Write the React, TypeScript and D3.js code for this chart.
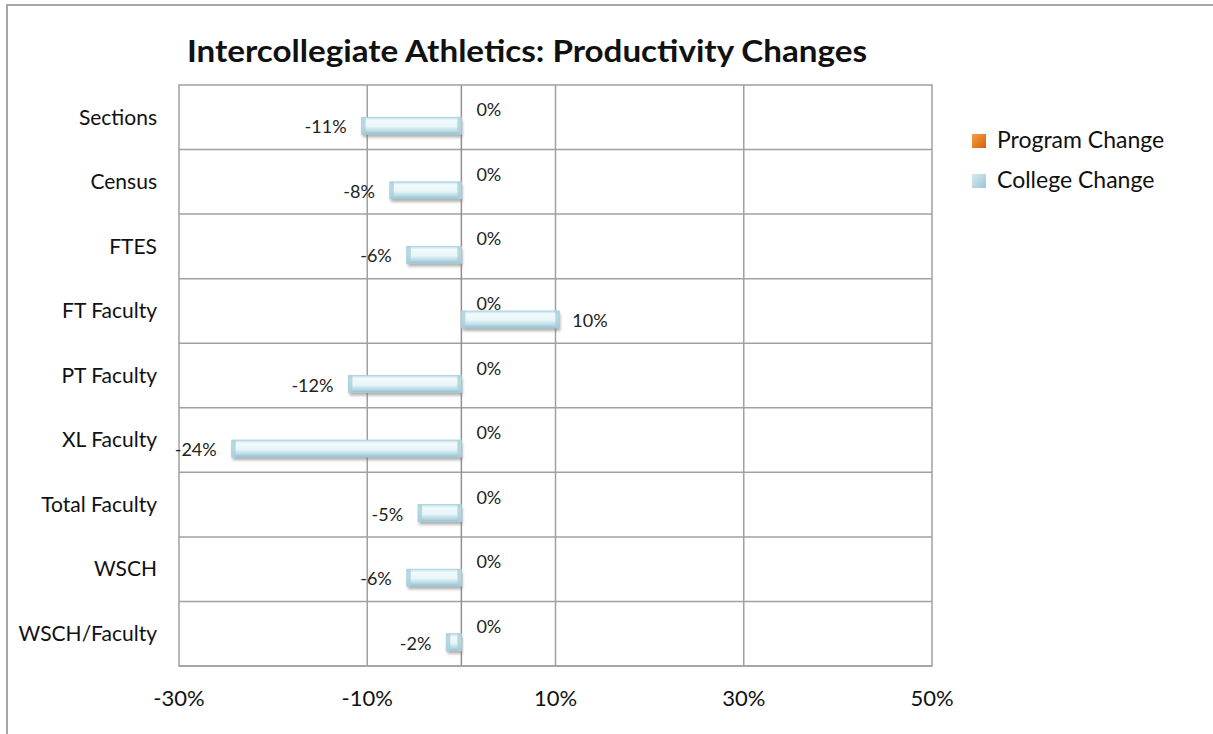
import React from "react";
import * as d3 from "d3";

const categories = [
  "Sections",
  "Census",
  "FTES",
  "FT Faculty",
  "PT Faculty",
  "XL Faculty",
  "Total Faculty",
  "WSCH",
  "WSCH/Faculty",
];
const seriesNames = ["Program Change", "College Change"];
const programChange = [0, 0, 0, 0, 0, 0, 0, 0, 0];
const collegeChange = [-0.106, -0.076, -0.058, 0.104, -0.12, -0.244, -0.046, -0.058, -0.016];
const xTicks = [-0.3, -0.1, 0.1, 0.3, 0.5];

const W = 1213;
const H = 734;
const plot = { left: 179, right: 932, top: 85, bottom: 666 };
const FONT = "Lato, 'Open Sans', sans-serif";

export default function App() {
  const x = d3.scaleLinear().domain([-0.3, 0.5]).range([plot.left, plot.right]);
  const y = d3.scaleBand<string>().domain(categories).range([plot.top, plot.bottom]).padding(0);
  const barH = 17;
  const sub = d3
    .scaleBand<string>()
    .domain(seriesNames)
    .range([y.bandwidth() / 2 - barH, y.bandwidth() / 2 + barH])
    .padding(0);
  const fmt = (v: number) => `${Math.round(v * 100)}%`;
  const gridVals = [-0.1, 0.1, 0.3];

  return (
    <div style={{ position: "absolute", left: 0, top: 0 }}>
      <svg width={W} height={H} style={{ display: "block", background: "#fff" }}>
        <defs>
          <linearGradient id="blueBar" x1="0" y1="0" x2="0" y2="1">
            <stop offset="0%" stopColor="#bcdde7" />
            <stop offset="18%" stopColor="#f2fafc" />
            <stop offset="55%" stopColor="#e9f5f8" />
            <stop offset="82%" stopColor="#b7dae4" />
            <stop offset="100%" stopColor="#8fbfcd" />
          </linearGradient>
          <linearGradient id="legBlue" x1="0" y1="0" x2="1" y2="1">
            <stop offset="0%" stopColor="#d6ebf1" />
            <stop offset="100%" stopColor="#9cc6d3" />
          </linearGradient>
          <linearGradient id="legOrange" x1="0" y1="0" x2="1" y2="1">
            <stop offset="0%" stopColor="#f5a040" />
            <stop offset="100%" stopColor="#d4600e" />
          </linearGradient>
          <filter id="shadow" x="-10%" y="-50%" width="120%" height="200%">
            <feGaussianBlur stdDeviation="1.8" />
          </filter>
        </defs>

        {/* outer chart border */}
        <rect x={7} y={5} width={W + 20} height={H + 20} fill="none" stroke="#a6a6a6" strokeWidth={2} />

        {/* title */}
        <text
          x={(187 + 867) / 2}
          y={62}
          textAnchor="middle"
          fontFamily={FONT}
          fontWeight={700}
          fontSize={30}
          textLength={680}
          lengthAdjust="spacingAndGlyphs"
          fill="#111"
        >
          Intercollegiate Athletics: Productivity Changes
        </text>

        {/* horizontal separators */}
        {categories.map((c, i) => (
          <line
            key={"h" + i}
            x1={plot.left}
            x2={plot.right}
            y1={(y(c) as number) + y.bandwidth()}
            y2={(y(c) as number) + y.bandwidth()}
            stroke="#a0a0a0"
            strokeWidth={1.5}
          />
        ))}
        {/* vertical gridlines */}
        {gridVals.map((v) => (
          <line key={"v" + v} x1={x(v)} x2={x(v)} y1={plot.top} y2={plot.bottom} stroke="#a0a0a0" strokeWidth={1.5} />
        ))}
        {/* zero axis */}
        <line x1={x(0)} x2={x(0)} y1={plot.top} y2={plot.bottom} stroke="#909090" strokeWidth={1.5} />
        {/* plot border */}
        <rect
          x={plot.left}
          y={plot.top}
          width={plot.right - plot.left}
          height={plot.bottom - plot.top}
          fill="none"
          stroke="#a0a0a0"
          strokeWidth={1.5}
        />

        {/* bars */}
        {categories.map((c, i) => {
          const v = collegeChange[i];
          const by = (y(c) as number) + (sub("College Change") as number);
          const x0 = Math.min(x(0), x(v));
          const w = Math.abs(x(v) - x(0));
          return (
            <g key={"b" + c}>
              <rect x={x0 + 1} y={by + 3} width={w} height={barH} fill="#7a7a7a" opacity={0.6} filter="url(#shadow)" />
              <rect x={x0} y={by} width={w} height={barH} fill="url(#blueBar)" stroke="#a9cfda" strokeWidth={0.8} />
              <rect x={x0} y={by} width={Math.min(4, w)} height={barH} fill="#a8d0dc" opacity={0.8} />
              <rect x={x0 + w - Math.min(4, w)} y={by} width={Math.min(4, w)} height={barH} fill="#a8d0dc" opacity={0.8} />
            </g>
          );
        })}

        {/* data labels */}
        {categories.map((c, i) => {
          const pv = programChange[i];
          const cv = collegeChange[i];
          const py = (y(c) as number) + (sub("Program Change") as number) + barH / 2;
          const cy = (y(c) as number) + (sub("College Change") as number) + barH / 2;
          return (
            <g key={"l" + c} fontFamily={FONT} fontSize={18} fill="#222">
              <text x={x(pv) + 15} y={py + 3} dominantBaseline="middle">
                {fmt(pv)}
              </text>
              <text
                x={cv < 0 ? x(cv) - 15 : x(cv) + 13}
                y={cy + 3}
                textAnchor={cv < 0 ? "end" : "start"}
                dominantBaseline="middle"
              >
                {fmt(cv)}
              </text>
            </g>
          );
        })}

        {/* category labels */}
        {categories.map((c) => (
          <text
            key={"c" + c}
            x={157}
            y={(y(c) as number) + y.bandwidth() / 2 + 2}
            textAnchor="end"
            dominantBaseline="middle"
            fontFamily={FONT}
            fontSize={21}
            fill="#111"
          >
            {c}
          </text>
        ))}

        {/* x tick labels */}
        {xTicks.map((t) => (
          <text
            key={"t" + t}
            x={x(t)}
            y={700}
            textAnchor="middle"
            dominantBaseline="middle"
            fontFamily={FONT}
            fontSize={22}
            fill="#111"
          >
            {fmt(t)}
          </text>
        ))}

        {/* legend */}
        {seriesNames.map((s, i) => (
          <g key={"lg" + s} transform={`translate(972, ${134 + i * 40})`}>
            <rect width={14} height={14} fill={i === 0 ? "url(#legOrange)" : "url(#legBlue)"} />
            <text x={25} y={8} dominantBaseline="middle" fontFamily={FONT} fontSize={23} fill="#111">
              {s}
            </text>
          </g>
        ))}
      </svg>
    </div>
  );
}
